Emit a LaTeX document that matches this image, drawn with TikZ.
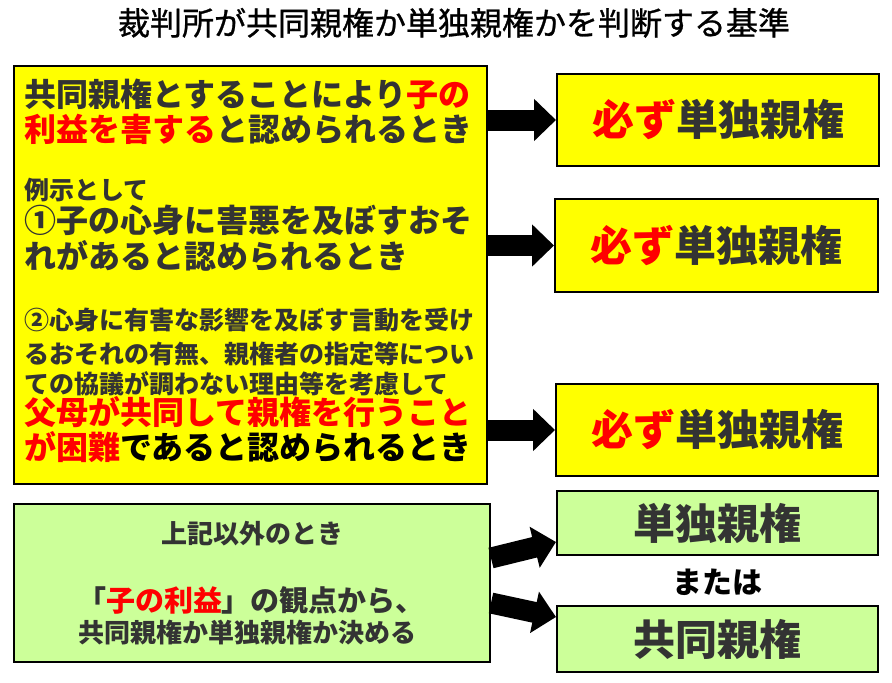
\documentclass[tikz,border=0pt]{standalone}
\usepackage{fontspec}
\setmainfont{Noto Sans CJK JP}
\newfontfamily\titlefont{Noto Sans CJK JP}[FakeBold=0.8]
\usepackage{xcolor}
\usepackage{tikz}
\usetikzlibrary{arrows.meta}
\definecolor{boxyellow}{RGB}{255, 255, 0}
\definecolor{boxgreen}{RGB}{204, 255, 153}
\definecolor{textgray}{RGB}{51, 51, 51}
\definecolor{markred}{RGB}{255, 0, 0}

\begin{document}
\begin{tikzpicture}[
    x=1pt, y=-1pt,
    box/.style={rectangle, draw=black, line width=2pt, inner sep=0pt, text centered},
    yellowbox/.style={box, fill=boxyellow},
    greenbox/.style={box, fill=boxgreen},
    cline/.style={anchor=base west, inner sep=0pt, text=textgray, font=\bfseries\fontsize{32}{36}\selectfont},
    csmall/.style={cline, font=\bfseries\fontsize{25}{30}\selectfont},
    gline/.style={anchor=base, inner sep=0pt, text=textgray, font=\bfseries\fontsize{26}{30}\selectfont},
    result/.style={text=textgray, font=\bfseries\fontsize{42}{48}\selectfont},
    arrow/.style={line width=21pt, -{Triangle[length=22pt 0 0, width=41pt 0 0]}}
]

\fill[white] (0,0) rectangle (892,683);

\node[anchor=base, inner sep=0pt, font=\titlefont\fontsize{32}{36}\selectfont] (title) at (454,35) {裁判所が共同親権か単独親権かを判断する基準};

% conditions
\node[yellowbox, minimum width=473pt, minimum height=418pt] (cond) at (250.5,275) {};
\node[cline] (c1) at (24,106) {共同親権とすることにより{\color{markred}子の}};
\node[cline] (c2) at (24,141) {{\color{markred}利益を害する}と認められるとき};
\node[csmall] (c3) at (24,199) {例示として};
\node[cline] (c4) at (24,232) {①子の心身に害悪を及ぼすおそ};
\node[cline] (c5) at (24,268) {れがあると認められるとき};
\node[csmall] (c6) at (24,329.5) {②心身に有害な影響を及ぼす言動を受け};
\node[csmall] (c7) at (24,363.5) {るおそれの有無、親権者の指定等につい};
\node[csmall] (c8) at (24,393.5) {ての協議が調わない理由等を考慮して};
\node[cline, text=markred] (c9) at (24,424) {父母が共同して親権を行うこと};
\node[cline] (c10) at (24,459) {{\color{markred}が困難}{\color{black}であると認められるとき}};

\node[greenbox, minimum width=476pt, minimum height=158pt] (other) at (252,583) {};
\node[gline] (o1) at (252,543) {上記以外のとき};
\node[gline, font=\bfseries\fontsize{29}{34}\selectfont] (o2) at (251,611) {「{\color{markred}子の利益}」の観点から、};
\node[gline] (o3) at (247,642) {共同親権か単独親権か決める};

% results
\node[yellowbox, result, minimum width=322pt, minimum height=92pt] (s1) at (718,120) {{\color{markred}必ず}単独親権};
\node[yellowbox, result, minimum width=323pt, minimum height=93pt] (s2) at (716.5,245.5) {{\color{markred}必ず}単独親権};
\node[yellowbox, result, minimum width=322pt, minimum height=92pt] (s3) at (717,430) {{\color{markred}必ず}単独親権};
\node[greenbox, result, minimum width=321pt, minimum height=64pt] (single) at (717.5,523) {単独親権};
\node[greenbox, result, minimum width=321pt, minimum height=66pt] (joint) at (717.5,639) {共同親権};
\path (single) -- node[yshift=-2pt, font=\bfseries\fontsize{30}{34}\selectfont] (or) {または} (joint);

\draw[arrow] (cond.east |- s1.west) -- (s1.west);
\draw[arrow] (cond.east |- s2.west) -- (s2.west);
\draw[arrow] (cond.east |- s3.west) -- (s3.west);
\draw[arrow] ([yshift=25pt]other.east) -- ([yshift=-19pt]single.west);
\draw[arrow] ([yshift=-20pt]other.east) -- ([yshift=22pt]joint.west);

\end{tikzpicture}
\end{document}
